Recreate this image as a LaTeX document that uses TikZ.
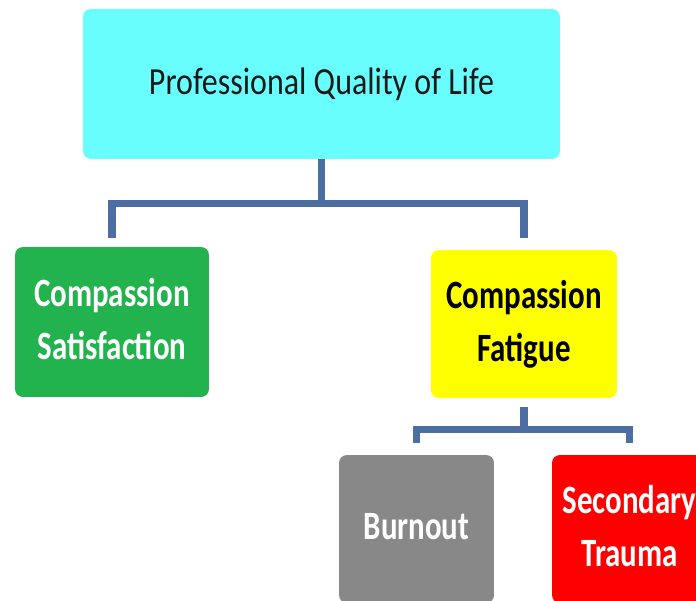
\documentclass[tikz,border=0pt]{standalone}
\usepackage{fontspec}
\setmainfont{Carlito}
\usepackage{graphicx}
\tikzset{>=latex}
\usetikzlibrary{positioning,calc}

\definecolor{qolcyan}{RGB}{104,254,254}
\definecolor{csgreen}{RGB}{34,178,78}
\definecolor{cfyellow}{RGB}{255,255,0}
\definecolor{bogray}{RGB}{136,136,136}
\definecolor{stred}{RGB}{255,0,0}
\definecolor{linkblue}{RGB}{76,110,162}

% text in the boxes is a bit taller than wide
\newcommand{\boxtext}[2][1.3]{\scalebox{1}[#1]{\begin{tabular}{@{}c@{}}#2\end{tabular}}}

\begin{document}
\begin{tikzpicture}[%
                    x=0.02cm,y=-0.02cm,
                    box/.style={rounded corners=4.5pt,inner sep=0,minimum height=2.96cm,
                                font=\fontsize{17.6}{23.2}\selectfont\bfseries},
                    main/.style={box,fill=qolcyan,minimum width=9.54cm,minimum height=3cm,
                                 text=black!90,font=\fontsize{18.2}{24}\selectfont},
                    branch/.style={box,minimum width=3.8cm},
                    leaf/.style={box,minimum width=3.1cm,text=white},
                    link/.style={draw=linkblue,line width=4pt}
        ]
    \clip (0,0) rectangle (696,601);
    \node[main] (qol) at (321.5,84) {\boxtext[1.2]{Professional Quality of Life}};
    \node[branch,fill=csgreen,text=white,minimum width=3.88cm,minimum height=3cm] (cs) at (112,322)
        {\boxtext{Compassion\\Satisfaction}};
    \node[branch,fill=cfyellow,text=black,minimum width=3.72cm] (cf) at (524,324)
        {\boxtext{Compassion\\Fatigue}};
    \node[leaf,fill=bogray] (bo) at (416.5,529) {\boxtext{Burnout}};
    \node[leaf,fill=stred] (st) at (629.5,529) {\boxtext{Secondary\\Trauma}};

    \path[link] (qol.south) -- ++(0,44) coordinate (bus1);
    \path[link] ([yshift=0.18cm]cs.north) |- (bus1) -| ([yshift=0.24cm]cf.north);
    \path[link] ([yshift=-0.18cm]cf.south) -- ++(0,22) coordinate (bus2);
    \path[link] ([yshift=0.24cm]bo.north) |- (bus2) -| ([yshift=0.24cm]st.north);
\end{tikzpicture}
\end{document}
